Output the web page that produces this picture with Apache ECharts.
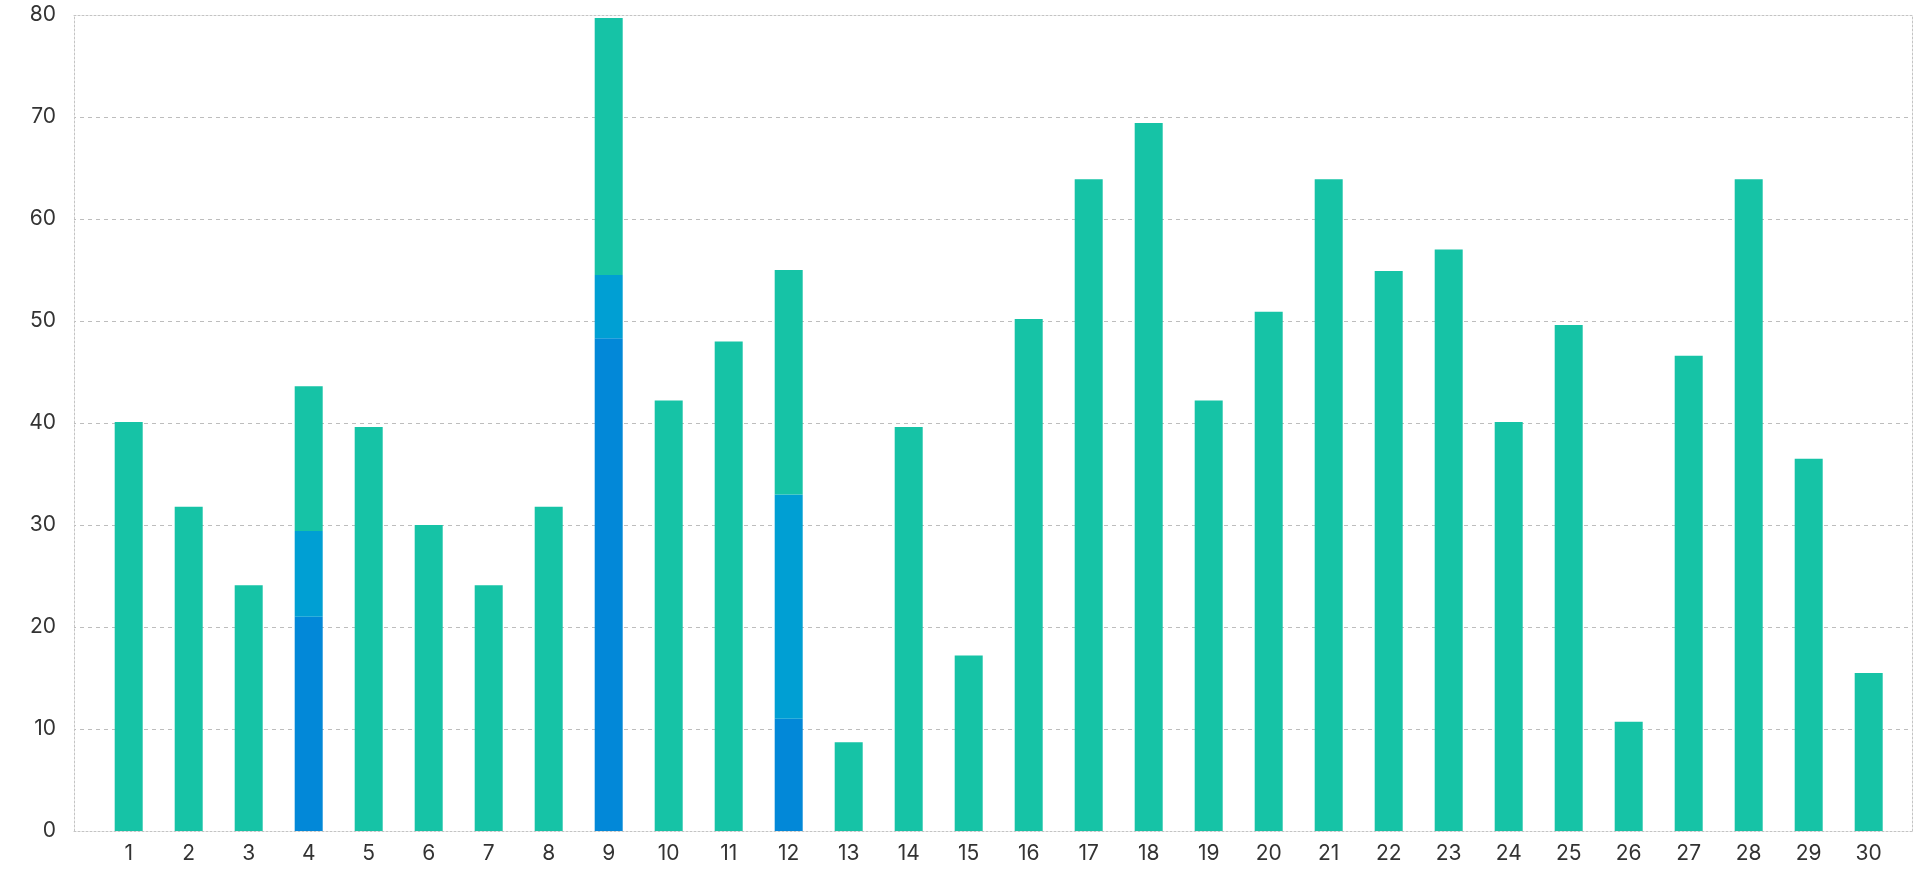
<!DOCTYPE html>
<html>
<head>
<meta charset="utf-8">
<script src="https://cdn.jsdelivr.net/npm/echarts@6/dist/echarts.min.js"></script>
<style>
html,body{margin:0;padding:0;background:#fff;}
#chart{width:1913px;height:870px;}
</style>
</head>
<body>
<div id="chart"></div>
<script>
var categories = ['1','2','3','4','5','6','7','8','9','10','11','12','13','14','15','16','17','18','19','20','21','22','23','24','25','26','27','28','29','30'];
// bottom (dark blue) segment
var darkPart = [null,null,null,21,null,null,null,null,48.3,null,null,11,null,null,null,null,null,null,null,null,null,null,null,null,null,null,null,null,null,null];
// middle (light blue) segment
var midPart = [null,null,null,8.4,null,null,null,null,6.2,null,null,22,null,null,null,null,null,null,null,null,null,null,null,null,null,null,null,null,null,null];
// top (teal) segment
var tealPart = [40.1,31.8,24.1,14.2,39.6,30,24.1,31.8,25.2,42.2,48,22,8.7,39.6,17.2,50.2,63.9,69.4,42.2,50.9,63.9,54.9,57,40.1,49.6,10.7,46.6,63.9,36.5,15.5];
var yTicks = {min:0, max:80, interval:10};

var chart = echarts.init(document.getElementById('chart'));
var dotted = {show:true, onZero:false, lineStyle:{color:'#c4c4c4', type:[2,2], width:1}};
var font = 'Inter, "Noto Sans", sans-serif';
chart.setOption({
  animation:false,
  grid:[
    {left:74, right:1, top:15, bottom:39},
    {left:98.7, right:14.3, top:15, bottom:39}
  ],
  xAxis:[
    {gridIndex:0, type:'value', min:0, max:1, position:'bottom', axisLine:dotted, axisTick:{show:false}, axisLabel:{show:false}, splitLine:{show:false}},
    {gridIndex:0, type:'value', min:0, max:1, position:'top', axisLine:dotted, axisTick:{show:false}, axisLabel:{show:false}, splitLine:{show:false}},
    {gridIndex:1, type:'category', data:categories, position:'bottom', axisLine:{show:false}, axisTick:{show:false},
      axisLabel:{color:'#333', fontSize:21, fontFamily:font, margin:12}}
  ],
  yAxis:[
    {gridIndex:0, type:'value', min:yTicks.min, max:yTicks.max, interval:yTicks.interval, position:'left', axisLine:dotted, axisTick:{show:false},
      axisLabel:{color:'#333', fontSize:21, fontFamily:font, margin:18},
      splitLine:{show:true, showMinLine:false, showMaxLine:false, lineStyle:{color:'#bdbdbd', type:[4,4], dashOffset:2, width:1}}},
    {gridIndex:0, type:'value', min:yTicks.min, max:yTicks.max, interval:yTicks.interval, position:'right', axisLine:dotted, axisTick:{show:false}, axisLabel:{show:false}, splitLine:{show:false}},
    {gridIndex:1, type:'value', min:yTicks.min, max:yTicks.max, interval:yTicks.interval, show:false, splitLine:{show:false}}
  ],
  series:[
    {type:'bar', xAxisIndex:2, yAxisIndex:2, stack:'a', data:darkPart, barWidth:28, itemStyle:{color:'#0288d8'}},
    {type:'bar', xAxisIndex:2, yAxisIndex:2, stack:'a', data:midPart, barWidth:28, itemStyle:{color:'#009fd3'}},
    {type:'bar', xAxisIndex:2, yAxisIndex:2, stack:'a', data:tealPart, barWidth:28, itemStyle:{color:'#16c3a6'}}
  ]
});
</script>
</body>
</html>
